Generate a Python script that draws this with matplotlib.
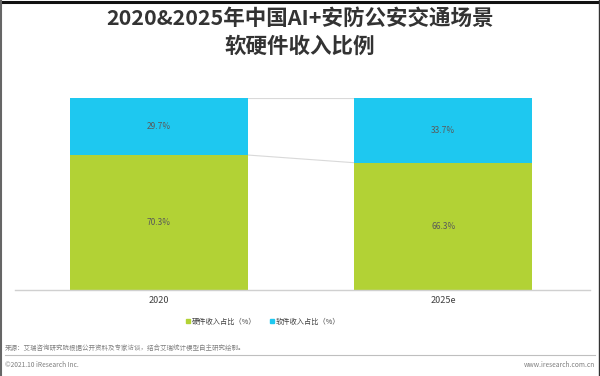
import matplotlib.pyplot as plt
from matplotlib.lines import Line2D
import numpy as np

plt.rcParams['font.family'] = ['Noto Sans CJK SC', 'DejaVu Sans']

# Data
years = ["2020", "2025e"]
hardware = [70.3, 66.3]
software = [29.7, 33.7]
series_names = ["硬件收入占比（%）", "软件收入占比（%）"]
colors = ["#B2D235", "#1EC8F0"]

fig = plt.figure(figsize=(6, 3.76), dpi=100)
ax = fig.add_axes([0.025, 0.2287, 0.958, 0.5106])

x_pos = np.arange(len(years))
width = 0.626

ax.bar(x_pos, hardware, width, color=colors[0], zorder=2)
ax.bar(x_pos, software, width, bottom=hardware, color=colors[1], zorder=2)

# connector lines between the bars
ax.plot([x_pos[0] + width / 2, x_pos[1] - width / 2], [100, 100],
        color="#D9D9D9", lw=0.8, zorder=1)
ax.plot([x_pos[0] + width / 2, x_pos[1] - width / 2], [hardware[0], hardware[1]],
        color="#D9D9D9", lw=0.8, zorder=1)

# value labels
for i in range(len(years)):
    ax.text(x_pos[i], hardware[i] / 2, f"{hardware[i]:.1f}%", ha="center", va="center",
            fontsize=6, color="#595959")
    ax.text(x_pos[i], hardware[i] + software[i] / 2, f"{software[i]:.1f}%", ha="center",
            va="center", fontsize=6, color="#595959")

ax.set_xlim(-0.506, 1.515)
ax.set_ylim(0, 100)
ax.set_xticks(x_pos)
ax.set_xticklabels(years, fontsize=6.5, color="#404040")
ax.tick_params(axis="x", length=0, pad=4)
ax.set_yticks([])
for side in ["top", "right", "left"]:
    ax.spines[side].set_visible(False)
ax.spines["bottom"].set_color("#D0D0D0")
ax.spines["bottom"].set_linewidth(1)

# title
fig.text(0.5, 0.950, "2020&2025年中国AI+安防公安交通场景", ha="center", va="center",
         fontsize=15.5, fontweight="bold", color="#333333")
fig.text(0.5, 0.877, "软硬件收入比例", ha="center", va="center",
         fontsize=15.5, fontweight="bold", color="#333333")

# legend
handles = [Line2D([], [], marker="s", ls="", color=c, markersize=3) for c in colors]
fig.legend(handles, series_names, loc="center", bbox_to_anchor=(0.437, 0.144), ncol=2,
           frameon=False, fontsize=5.2, handletextpad=0.05, columnspacing=1.6,
           handlelength=1.0, labelcolor="#404040")

# source and footer
fig.text(0.008, 0.074, "来源：艾瑞咨询研究院根据公开资料及专家访谈，结合艾瑞统计模型自主研究绘制。",
         fontsize=4.7, color="#7F7F7F", va="center")
fig.add_artist(Line2D([0.008, 0.992], [0.055, 0.055], color="#BFBFBF", lw=0.8))
fig.text(0.008, 0.030, "©2021.10 iResearch Inc.", fontsize=4.8, color="#7F7F7F", va="center")
fig.text(0.992, 0.030, "www.iresearch.com.cn", fontsize=4.8, color="#7F7F7F", va="center",
         ha="right")

# image frame
fig.add_artist(Line2D([0, 1], [0.996, 0.996], color="#111111", lw=2.2))
fig.add_artist(Line2D([0.001, 0.001], [0, 1], color="#666666", lw=1.5))
fig.add_artist(Line2D([0.999, 0.999], [0, 1], color="#333333", lw=1))

fig.savefig("out.png", dpi=100)
